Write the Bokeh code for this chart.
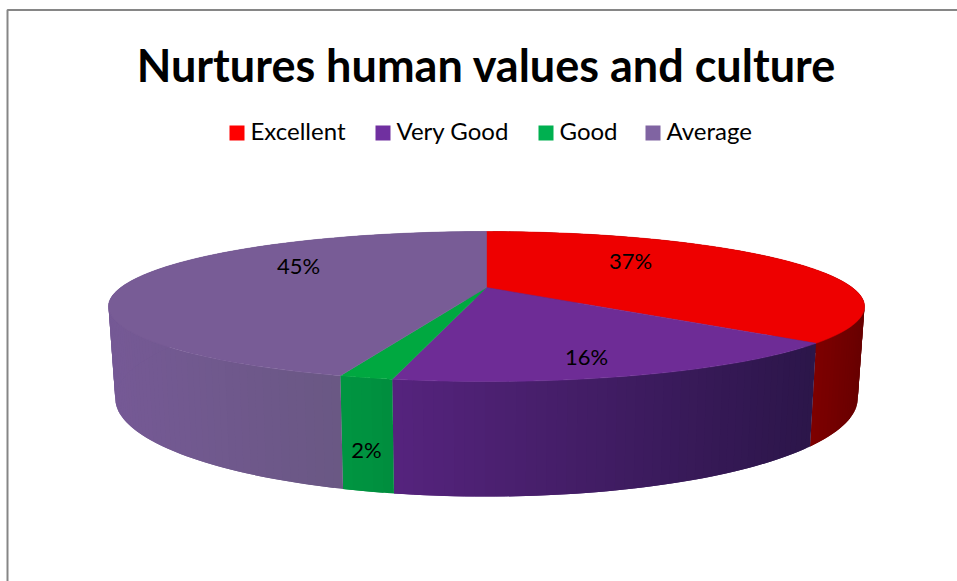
import numpy as np
from bokeh.plotting import figure
from bokeh.models import Range1d
from bokeh.core.properties import value
from bokeh.embed import file_html
from bokeh.resources import INLINE

title_text = "Nurtures human values and culture"
categories = ["Excellent", "Very Good", "Good", "Average"]
percents = [36.5, 16.6, 1.8, 45.1]
labels = ["37%", "16%", "2%", "45%"]
top_colors = ["#EE0000", "#6E2C96", "#00A840", "#785C96"]
side_left = [(128, 0, 0), (86, 36, 126), (0, 150, 66), (118, 90, 150)]
side_right = [(104, 0, 0), (44, 22, 74), (0, 142, 62), (106, 88, 132)]
legend_colors = ["#FF0000", "#7030A0", "#00B050", "#8064A2"]

# picture geometry (page pixels)
CX, CY = 486, 287
A, B, K = 365.7, 70.2, 0.2534
DEPTH, SHRINK = 85.9, 0.982
label_xy = [(630, 260), (586, 356), (366, 449), (298, 265)]
legend_swatch_x = [229, 375, 538, 645]
legend_text_x = [250, 396, 559, 666]
FONT = value("Lato")


def ring(angles, bottom=False):
    u, v = np.sin(angles), -np.cos(angles)
    w = 1 - K * v
    s = SHRINK if bottom else 1.0
    d = DEPTH if bottom else 0.0
    return CX + s * A * u / w, CY + (B * v + d) / w


p = figure(width=957, height=581, output_backend="svg", toolbar_location=None,
           x_range=Range1d(0, 957), y_range=Range1d(581, 0), min_border=0,
           outline_line_color=None)
p.xaxis.visible = False
p.yaxis.visible = False
p.grid.visible = False

# chart frame
p.line([7, 7, 957], [581, 9.5, 9.5], line_color="#868686", line_width=2)

edges = np.radians(np.cumsum([0] + percents) * 3.6)

# side wall: each strip reaches over the next one so that no seams show
xs, ys, cols = [], [], []
for i in range(len(percents)):
    n = max(3, int((edges[i + 1] - edges[i]) / np.radians(1.2)))
    a = np.linspace(edges[i], edges[i + 1], n + 1)
    tx, ty = ring(a)
    bx, by = ring(a, True)
    front = np.cos(a) <= 0.3
    x0, x1 = tx[front].min(), tx[front].max()
    for j in range(n):
        k = min(j + 2, n)
        xs.append([tx[j], tx[k], bx[k], bx[j]])
        ys.append([ty[j], ty[k], by[k], by[j]])
        f = min(max((0.5 * (tx[j] + tx[j + 1]) - x0) / max(x1 - x0, 1), 0), 1)
        c = [int(side_left[i][q] + f * (side_right[i][q] - side_left[i][q])) for q in range(3)]
        cols.append("#%02x%02x%02x" % tuple(c))
p.patches(xs, ys, fill_color=cols, line_color=None)

# top face
for i in range(len(percents)):
    a = np.linspace(edges[i], edges[i + 1], 120)
    x, y = ring(a)
    x = np.concatenate([[CX], x])
    y = np.concatenate([[CY], y])
    p.patch(x, y, fill_color=top_colors[i], line_color=top_colors[i], line_width=0.5)

# labels
for t, (x, y) in zip(labels, label_xy):
    p.text([x], [y], text=[t], text_font=FONT, text_font_size="22px",
           text_color="#000000", text_align="center", text_baseline="middle")

# title
p.text([486], [64], text=[title_text], text_font=FONT, text_font_style="bold",
       text_font_size="45px", text_color="#000000", text_align="center", text_baseline="middle")

# legend
for name, col, sx, tx in zip(categories, legend_colors, legend_swatch_x, legend_text_x):
    p.quad(left=[sx], right=[sx + 15], top=[125], bottom=[140], fill_color=col, line_color=None)
    p.text([tx], [130], text=[name], text_font=FONT, text_font_size="24px",
           text_color="#000000", text_align="left", text_baseline="middle")

open("out.html", "w").write(file_html(p, INLINE))
